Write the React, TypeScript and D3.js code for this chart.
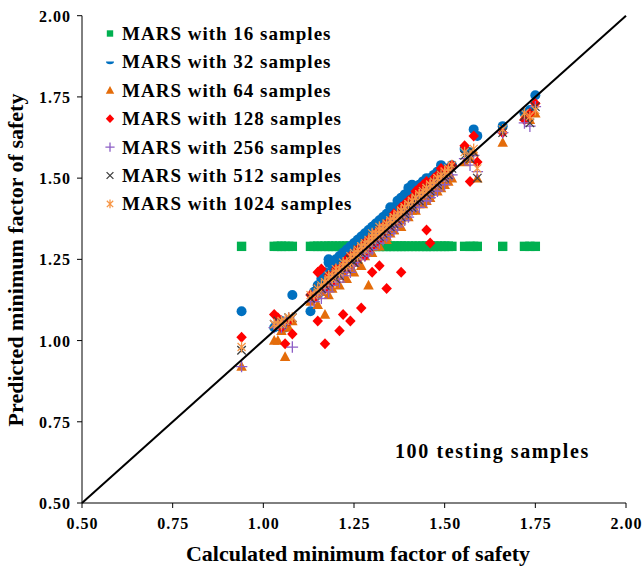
import React from "react";
import * as d3 from "d3";

// Calculated minimum factor of safety for the 100 testing samples (shared by all series)
const calculated = [
  0.94, 1.03, 1.04, 1.05, 1.05, 1.06, 1.07, 1.08, 1.13, 1.14,
  1.15, 1.15, 1.16, 1.17, 1.17, 1.18, 1.18, 1.19, 1.19, 1.2,
  1.2, 1.21, 1.21, 1.22, 1.22, 1.23, 1.23, 1.24, 1.24, 1.25,
  1.25, 1.26, 1.26, 1.26, 1.27, 1.27, 1.28, 1.28, 1.28, 1.29,
  1.29, 1.3, 1.3, 1.3, 1.31, 1.31, 1.32, 1.32, 1.32, 1.33,
  1.33, 1.34, 1.34, 1.34, 1.35, 1.35, 1.36, 1.36, 1.36, 1.37,
  1.37, 1.38, 1.38, 1.38, 1.39, 1.39, 1.4, 1.4, 1.41, 1.41,
  1.42, 1.42, 1.43, 1.43, 1.44, 1.44, 1.45, 1.45, 1.45, 1.46,
  1.46, 1.47, 1.47, 1.48, 1.48, 1.49, 1.49, 1.5, 1.5, 1.51,
  1.51, 1.52, 1.555, 1.57, 1.58, 1.59, 1.66, 1.72, 1.735, 1.75,
];

const mars16 = [
  1.29, 1.29, 1.29, 1.29, 1.29, 1.29, 1.29, 1.29, 1.29, 1.29,
  1.29, 1.29, 1.29, 1.29, 1.29, 1.29, 1.29, 1.29, 1.29, 1.29,
  1.29, 1.29, 1.29, 1.29, 1.29, 1.29, 1.29, 1.29, 1.29, 1.29,
  1.29, 1.29, 1.29, 1.29, 1.29, 1.29, 1.29, 1.29, 1.29, 1.29,
  1.29, 1.29, 1.29, 1.29, 1.29, 1.29, 1.29, 1.29, 1.29, 1.29,
  1.29, 1.29, 1.29, 1.29, 1.29, 1.29, 1.29, 1.29, 1.29, 1.29,
  1.29, 1.29, 1.29, 1.29, 1.29, 1.29, 1.29, 1.29, 1.29, 1.29,
  1.29, 1.29, 1.29, 1.29, 1.29, 1.29, 1.29, 1.29, 1.29, 1.29,
  1.29, 1.29, 1.29, 1.29, 1.29, 1.29, 1.29, 1.29, 1.29, 1.29,
  1.29, 1.29, 1.29, 1.29, 1.29, 1.29, 1.29, 1.29, 1.29, 1.29,
];

const mars32 = [
  1.09, 1.04, 1.05, 1.06, 1.04, 1.04, 1.06, 1.14, 1.09, 1.15,
  1.17, 1.14, 1.19, 1.21, 1.18, 1.25, 1.24, 1.21, 1.23, 1.22,
  1.25, 1.23, 1.26, 1.24, 1.27, 1.25, 1.28, 1.26, 1.29, 1.3,
  1.28, 1.3, 1.28, 1.31, 1.29, 1.32, 1.3, 1.33, 1.31, 1.32,
  1.34, 1.33, 1.35, 1.34, 1.33, 1.36, 1.36, 1.34, 1.37, 1.36,
  1.38, 1.36, 1.39, 1.37, 1.38, 1.41, 1.38, 1.41, 1.39, 1.41,
  1.43, 1.41, 1.44, 1.42, 1.45, 1.43, 1.47, 1.44, 1.48, 1.45,
  1.47, 1.45, 1.48, 1.46, 1.49, 1.47, 1.5, 1.48, 1.49, 1.49,
  1.5, 1.51, 1.49, 1.52, 1.5, 1.54, 1.52, 1.53, 1.51, 1.53,
  1.52, 1.54, 1.59, 1.58, 1.65, 1.63, 1.66, 1.7, 1.71, 1.755,
];

const mars64 = [
  0.92, 1.0, 1.0, 1.03, 1.05, 0.95, 1.04, 1.06, 1.12, 1.13,
  1.14, 1.11, 1.15, 1.08, 1.16, 1.17, 1.14, 1.18, 1.16, 1.19,
  1.18, 1.2, 1.17, 1.21, 1.2, 1.22, 1.19, 1.23, 1.22, 1.24,
  1.21, 1.25, 1.24, 1.26, 1.23, 1.27, 1.26, 1.27, 1.28, 1.17,
  1.28, 1.29, 1.27, 1.3, 1.29, 1.31, 1.29, 1.32, 1.31, 1.32,
  1.33, 1.31, 1.32, 1.34, 1.33, 1.35, 1.34, 1.36, 1.34, 1.37,
  1.36, 1.37, 1.38, 1.35, 1.38, 1.39, 1.38, 1.4, 1.4, 1.41,
  1.4, 1.42, 1.42, 1.43, 1.42, 1.44, 1.45, 1.43, 1.44, 1.45,
  1.44, 1.46, 1.47, 1.46, 1.48, 1.47, 1.49, 1.48, 1.5, 1.49,
  1.51, 1.5, 1.55, 1.56, 1.58, 1.5, 1.61, 1.69, 1.68, 1.7,
];

const mars128 = [
  1.01, 1.08, 1.07, 1.05, 1.04, 0.99, 1.06, 1.02, 1.14, 1.13,
  1.06, 1.21, 1.22, 0.99, 1.16, 1.18, 1.2, 1.2, 1.18, 1.21,
  1.22, 1.03, 1.22, 1.08, 1.23, 1.25, 1.22, 1.06, 1.26, 1.26,
  1.24, 1.28, 1.26, 1.25, 1.1, 1.28, 1.27, 1.3, 1.26, 1.31,
  1.28, 1.21, 1.31, 1.29, 1.33, 1.3, 1.34, 1.31, 1.23, 1.35,
  1.33, 1.16, 1.36, 1.34, 1.37, 1.35, 1.38, 1.36, 1.39, 1.38,
  1.37, 1.21, 1.39, 1.41, 1.4, 1.42, 1.41, 1.43, 1.42, 1.44,
  1.43, 1.46, 1.44, 1.47, 1.45, 1.48, 1.34, 1.46, 1.49, 1.3,
  1.47, 1.48, 1.5, 1.49, 1.51, 1.5, 1.53, 1.52, 1.51, 1.53,
  1.52, 1.54, 1.6, 1.49, 1.63, 1.55, 1.64, 1.68, 1.7, 1.73,
];

const mars256 = [
  0.92, 1.04, 1.05, 1.04, 1.06, 1.05, 1.07, 0.98, 1.12, 1.12,
  1.14, 1.15, 1.13, 1.16, 1.17, 1.15, 1.18, 1.18, 1.17, 1.19,
  1.2, 1.18, 1.21, 1.21, 1.2, 1.22, 1.23, 1.21, 1.24, 1.24,
  1.23, 1.25, 1.26, 1.25, 1.26, 1.27, 1.26, 1.27, 1.29, 1.28,
  1.27, 1.3, 1.29, 1.28, 1.3, 1.31, 1.3, 1.32, 1.33, 1.31,
  1.33, 1.32, 1.34, 1.35, 1.33, 1.35, 1.36, 1.34, 1.37, 1.36,
  1.35, 1.37, 1.38, 1.39, 1.37, 1.39, 1.4, 1.38, 1.41, 1.4,
  1.42, 1.41, 1.43, 1.41, 1.44, 1.43, 1.45, 1.43, 1.46, 1.45,
  1.44, 1.47, 1.46, 1.48, 1.46, 1.49, 1.48, 1.5, 1.48, 1.51,
  1.5, 1.51, 1.56, 1.54, 1.57, 1.52, 1.64, 1.67, 1.66, 1.72,
];

const mars512 = [
  0.97, 1.05, 1.06, 1.05, 1.05, 1.06, 1.07, 1.07, 1.13, 1.14,
  1.15, 1.16, 1.16, 1.17, 1.18, 1.18, 1.19, 1.2, 1.2, 1.19,
  1.21, 1.2, 1.22, 1.23, 1.23, 1.22, 1.24, 1.25, 1.25, 1.24,
  1.26, 1.25, 1.27, 1.28, 1.28, 1.27, 1.29, 1.3, 1.28, 1.3,
  1.29, 1.31, 1.3, 1.32, 1.32, 1.31, 1.33, 1.34, 1.32, 1.34,
  1.33, 1.35, 1.34, 1.36, 1.36, 1.35, 1.37, 1.38, 1.36, 1.38,
  1.37, 1.39, 1.38, 1.4, 1.4, 1.39, 1.41, 1.42, 1.42, 1.41,
  1.43, 1.44, 1.44, 1.43, 1.45, 1.46, 1.46, 1.45, 1.47, 1.47,
  1.46, 1.48, 1.49, 1.49, 1.48, 1.5, 1.51, 1.51, 1.5, 1.52,
  1.51, 1.53, 1.57, 1.56, 1.58, 1.5, 1.64, 1.69, 1.67, 1.72,
];

const mars1024 = [
  0.98, 1.05, 1.05, 1.06, 1.05, 1.06, 1.07, 1.07, 1.14, 1.14,
  1.16, 1.15, 1.17, 1.18, 1.18, 1.19, 1.2, 1.2, 1.19, 1.21,
  1.22, 1.22, 1.21, 1.23, 1.24, 1.24, 1.23, 1.26, 1.24, 1.26,
  1.27, 1.27, 1.26, 1.28, 1.29, 1.29, 1.28, 1.3, 1.29, 1.3,
  1.31, 1.31, 1.33, 1.32, 1.32, 1.33, 1.34, 1.33, 1.35, 1.34,
  1.35, 1.36, 1.35, 1.36, 1.37, 1.37, 1.38, 1.38, 1.37, 1.38,
  1.39, 1.39, 1.4, 1.4, 1.41, 1.41, 1.42, 1.42, 1.43, 1.43,
  1.44, 1.44, 1.45, 1.45, 1.45, 1.46, 1.47, 1.47, 1.46, 1.48,
  1.48, 1.49, 1.48, 1.5, 1.5, 1.51, 1.5, 1.52, 1.52, 1.53,
  1.52, 1.54, 1.58, 1.57, 1.59, 1.53, 1.65, 1.7, 1.69, 1.71,
];

const seriesNames = [
  "MARS with 16 samples",
  "MARS with 32 samples",
  "MARS with 64 samples",
  "MARS with 128 samples",
  "MARS with 256 samples",
  "MARS with 512 samples",
  "MARS with 1024 samples",
];
const seriesValues = [mars16, mars32, mars64, mars128, mars256, mars512, mars1024];
const seriesColors = ["#00B050", "#0070C0", "#E46C0A", "#FF0000", "#8D5FC6", "#404040", "#F79646"];
const seriesShapes = ["square", "circle", "triangle", "diamond", "plus", "cross", "asterisk"];

const ticks = [0.5, 0.75, 1.0, 1.25, 1.5, 1.75, 2.0];

const FONT = "Liberation Serif";

function markerPath(shape: string, s: number): string {
  switch (shape) {
    case "square":
      return `M${-s},${-s}H${s}V${s}H${-s}Z`;
    case "circle":
      return `M${-s},0A${s},${s} 0 1,0 ${s},0A${s},${s} 0 1,0 ${-s},0Z`;
    case "halfcircle":
      return `M${-s},${-s * 0.1}H${s}A${s},${s * 0.7} 0 0,1 ${-s},${-s * 0.1}Z`;
    case "triangle":
      return `M0,${-s * 1.1}L${s * 1.05},${s * 0.85}L${-s * 1.05},${s * 0.85}Z`;
    case "diamond":
      return `M0,${-s * 1.1}L${s * 1.05},0L0,${s * 1.1}L${-s * 1.05},0Z`;
    case "plus":
      return `M${-s * 1.15},0H${s * 1.15}M0,${-s * 1.15}V${s * 1.15}`;
    case "cross":
      return `M${-s * 0.85},${-s * 0.85}L${s * 0.85},${s * 0.85}M${-s * 0.85},${s * 0.85}L${s * 0.85},${-s * 0.85}`;
    case "asterisk":
      return `M${-s * 0.8},${-s * 0.8}L${s * 0.8},${s * 0.8}M${-s * 0.8},${s * 0.8}L${s * 0.8},${-s * 0.8}M0,${-s * 1.1}V${s * 1.1}`;
  }
  return "";
}

function isStroked(shape: string) {
  return shape === "plus" || shape === "cross" || shape === "asterisk";
}

export default function App() {
  const width = 644;
  const height = 570;
  const x = d3.scaleLinear().domain([0.5, 2.0]).range([82, 626]);
  const y = d3.scaleLinear().domain([0.5, 2.0]).range([503, 15.7]);

  const legendX = 110;
  const legendTextX = 122;
  const legendBase = 40;
  const legendStep = 28.4;

  const textStyle = { fontFamily: FONT, fontWeight: 700 } as React.CSSProperties;

  return (
    <svg
      width={width}
      height={height}
      style={{ position: "absolute", left: 0, top: 0, background: "#fff" }}
    >
      <rect x={0} y={0} width={width} height={height} fill="#fff" />

      {/* series */}
      {seriesValues.map((vals, si) => {
        const shape = seriesShapes[si];
        const size = si === 0 ? 4.7 : 5;
        const d = markerPath(shape, size);
        const stroked = isStroked(shape);
        return (
          <g key={si}>
            {vals.map((v, i) => (
              <path
                key={i}
                d={d}
                transform={`translate(${x(calculated[i])},${y(v)})`}
                fill={stroked ? "none" : seriesColors[si]}
                stroke={stroked ? seriesColors[si] : "none"}
                strokeWidth={stroked ? 1.3 : 0}
              />
            ))}
          </g>
        );
      })}

      {/* 1:1 line */}
      <line x1={x(0.5)} y1={y(0.5)} x2={x(2.0)} y2={y(2.0)} stroke="#000" strokeWidth={2} />

      {/* axes */}
      <line x1={x(0.5)} y1={y(0.5)} x2={x(2.0)} y2={y(0.5)} stroke="#000" strokeWidth={1} />
      <line x1={x(0.5)} y1={y(0.5)} x2={x(0.5)} y2={y(2.0)} stroke="#000" strokeWidth={1} />
      {ticks.map((t) => (
        <g key={"xt" + t}>
          <line x1={x(t)} x2={x(t)} y1={y(0.5)} y2={y(0.5) + 5} stroke="#000" />
          <text
            x={x(t) + 0.5}
            y={529}
            textAnchor="middle"
            fontSize={16}
            letterSpacing={1}
            style={textStyle}
          >
            {t.toFixed(2)}
          </text>
        </g>
      ))}
      {ticks.map((t) => (
        <g key={"yt" + t}>
          <line x1={x(0.5) - 5} x2={x(0.5)} y1={y(t)} y2={y(t)} stroke="#000" />
          <text
            x={71}
            y={y(t) + 6}
            textAnchor="end"
            fontSize={16}
            letterSpacing={1}
            style={textStyle}
          >
            {t.toFixed(2)}
          </text>
        </g>
      ))}

      {/* axis titles */}
      <text x={358} y={561} textAnchor="middle" fontSize={22} style={textStyle}>
        Calculated minimum factor of safety
      </text>
      <text
        transform={`translate(23,${260}) rotate(-90)`}
        textAnchor="middle"
        fontSize={22}
        style={textStyle}
      >
        Predicted minimum factor of safety
      </text>

      {/* annotation */}
      <text x={395} y={458} fontSize={20} letterSpacing={1.6} style={textStyle}>
        100 testing samples
      </text>

      {/* legend */}
      {seriesNames.map((name, si) => {
        const shape = si === 1 ? "halfcircle" : seriesShapes[si];
        const stroked = isStroked(shape);
        const base = legendBase + si * legendStep;
        const cy = base - 6.5;
        return (
          <g key={"lg" + si}>
            <path
              d={markerPath(shape, si === 0 ? 3.2 : 4)}
              transform={`translate(${legendX},${cy})`}
              fill={stroked ? "none" : seriesColors[si]}
              stroke={stroked ? seriesColors[si] : "none"}
              strokeWidth={stroked ? 1.3 : 0}
            />
            <text x={legendTextX} y={base} fontSize={19} letterSpacing={1} style={textStyle}>
              {name}
            </text>
          </g>
        );
      })}
    </svg>
  );
}
